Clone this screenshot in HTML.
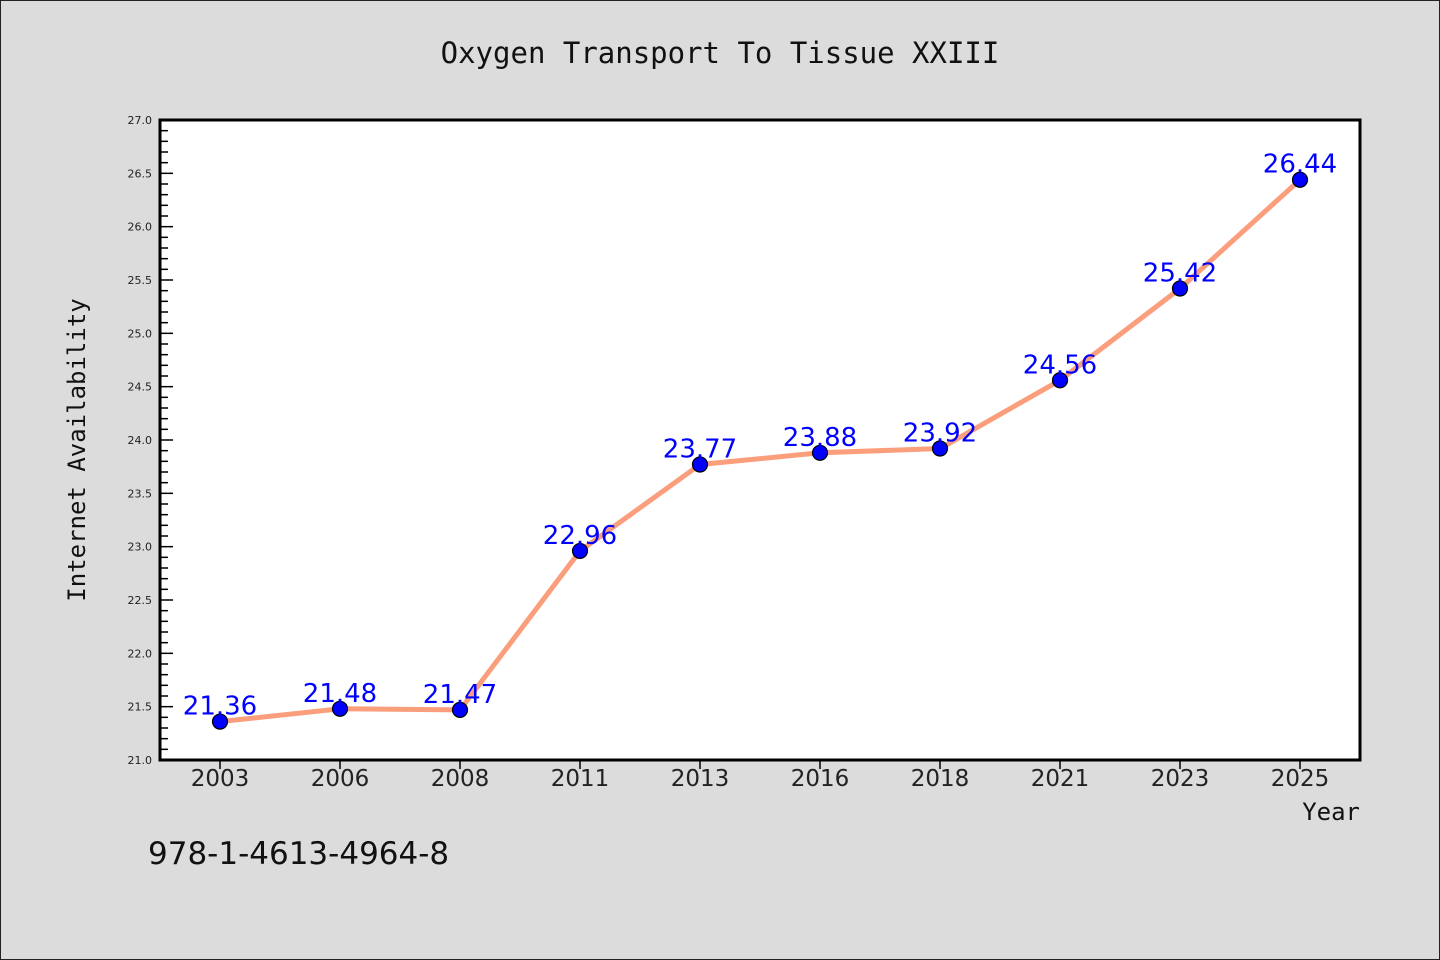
<!DOCTYPE html>
<html><head><meta charset="utf-8"><style>
html,body{margin:0;padding:0;}
body{width:1440px;height:960px;background:#dcdcdc;overflow:hidden;position:relative;font-family:"DejaVu Sans","Liberation Sans",sans-serif;}
.frame{position:absolute;left:0;top:0;width:1438px;height:958px;border:1px solid #222;}
</style></head><body>
<div class="frame"></div>
<svg width="1440" height="960" style="position:absolute;left:0;top:0">
<text x="720" y="63" text-anchor="middle" font-family="DejaVu Sans Mono, Liberation Mono, monospace" font-size="29" fill="#111">Oxygen Transport To Tissue XXIII</text>
<rect x="160" y="120" width="1200" height="640" fill="#fff" stroke="none"/>
<g id="yticks"></g><g id="xticks"></g>
<rect x="160" y="120" width="1200" height="640" fill="none" stroke="#000" stroke-width="3"/>
<polyline id="line" fill="none" stroke="#fa9e7c" stroke-width="5" stroke-linejoin="round"/>
<g id="points"></g>
<text transform="translate(85,450) rotate(-90)" text-anchor="middle" font-family="DejaVu Sans Mono, Liberation Mono, monospace" font-size="24" fill="#111">Internet Availability</text>
<text x="1360" y="820" text-anchor="end" font-family="DejaVu Sans Mono, Liberation Mono, monospace" font-size="24" fill="#111">Year</text>
<text x="148" y="864" font-size="31" fill="#111">978-1-4613-4964-8</text>
</svg>
<script>
const categories = ["2003","2006","2008","2011","2013","2016","2018","2021","2023","2025"];
const values = [21.36,21.48,21.47,22.96,23.77,23.88,23.92,24.56,25.42,26.44];
const yTickLabels = ["21.0","21.5","22.0","22.5","23.0","23.5","24.0","24.5","25.0","25.5","26.0","26.5","27.0"];
const yMin=21, yMax=27;
const NS="http://www.w3.org/2000/svg";
function ys(v){return 760-(v-yMin)/(yMax-yMin)*640;}
function xs(i){return 160+1200*(i+0.5)/categories.length;}
function mk(tag,attrs,parent){const e=document.createElementNS(NS,tag);for(const k in attrs)e.setAttribute(k,attrs[k]);parent.appendChild(e);return e;}
const yg=document.getElementById('yticks');
for(let k=0;k<=60;k++){const v=yMin+k*0.1;const y=ys(v);const major=k%5===0;
 const t=mk('line',{x1:160,x2:major?173:168,y1:y,y2:y,stroke:'#000','stroke-width':1.5},yg);
 
 }
yTickLabels.forEach(l=>{const t=mk('text',{x:152,y:ys(parseFloat(l))+4,'text-anchor':'end','font-size':11,fill:'#222'},yg);t.textContent=l;
 
 });
const xg=document.getElementById('xticks');
categories.forEach((c,i)=>{const x=xs(i);
 const t=mk('line',{x1:x,x2:x,y1:760,y2:769,stroke:'#000','stroke-width':1.5},xg);
 
 
 const l=mk('text',{x:x,y:786,'text-anchor':'middle','font-size':23,fill:'#222'},xg);l.textContent=c;
 
 });
document.getElementById('line').setAttribute('points',values.map((v,i)=>xs(i)+','+ys(v)).join(' '));
const pg=document.getElementById('points');
values.forEach((v,i)=>{const c=mk('circle',{cx:xs(i),cy:ys(v),r:7.5,fill:'#0000ff',stroke:'#000','stroke-width':1.2},pg);
 
 
 const t=mk('text',{x:xs(i),y:ys(v)-7,'text-anchor':'middle','font-size':26,fill:'#0000ff'},pg);t.textContent=v.toFixed(2);
 
 });
</script>
</body></html>
